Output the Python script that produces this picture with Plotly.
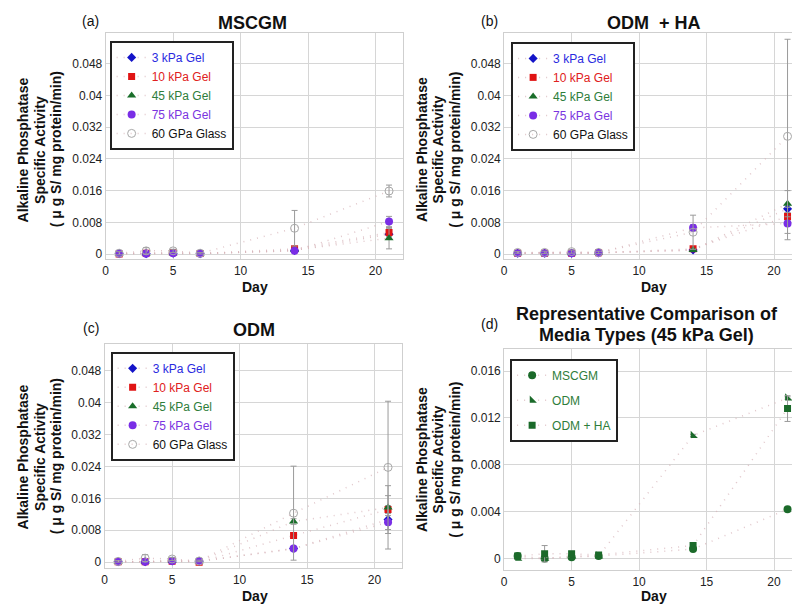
import plotly.graph_objects as go

W, H = 800, 604

days = [1, 3, 5, 7, 14, 21]
series_names = ["3 kPa Gel", "10 kPa Gel", "45 kPa Gel", "75 kPa Gel", "60 GPa Glass"]

# Panel (a) MSCGM
a_3kpa = [0.0001, 0.0001, 0.0002, 0.0001, 0.0009, 0.0050]
a_10kpa = [0.0000, 0.0002, 0.0004, 0.0001, 0.0013, 0.0054]
a_45kpa = [0.0001, 0.0001, 0.0002, 0.0001, 0.0010, 0.0040]
a_75kpa = [0.0001, 0.0001, 0.0002, 0.0001, 0.0008, 0.0082]
a_glass = [0.0002, 0.0008, 0.0008, 0.0002, 0.0065, 0.0159]
a_err_3kpa = [0.0001, 0.0001, 0.0001, 0.0001, 0.0002, 0.0010]
a_err_10kpa = [0.0001, 0.0001, 0.0002, 0.0001, 0.0003, 0.0010]
a_err_45kpa = [0.0001, 0.0001, 0.0001, 0.0001, 0.0002, 0.0027]
a_err_75kpa = [0.0001, 0.0001, 0.0001, 0.0001, 0.0002, 0.0013]
a_err_glass = [0.0004, 0.0008, 0.0004, 0.0002, 0.0045, 0.0015]

# Panel (b) ODM + HA
b_3kpa = [0.0002, 0.0002, 0.0002, 0.0003, 0.0010, 0.0114]
b_10kpa = [0.0002, 0.0002, 0.0002, 0.0003, 0.0013, 0.0095]
b_45kpa = [0.0002, 0.0002, 0.0002, 0.0003, 0.0010, 0.0127]
b_75kpa = [0.0002, 0.0002, 0.0002, 0.0003, 0.0066, 0.0077]
b_glass = [0.0004, 0.0004, 0.0006, 0.0004, 0.0055, 0.0297]
b_err_3kpa = [0.0001, 0.0001, 0.0001, 0.0001, 0.0002, 0.0010]
b_err_10kpa = [0.0001, 0.0001, 0.0001, 0.0001, 0.0002, 0.0010]
b_err_45kpa = [0.0001, 0.0001, 0.0001, 0.0001, 0.0002, 0.0033]
b_err_75kpa = [0.0001, 0.0001, 0.0001, 0.0001, 0.0008, 0.0041]
b_err_glass = [0.0002, 0.0003, 0.0004, 0.0003, 0.0043, 0.0245]

# Panel (c) ODM
c_3kpa = [0.0001, 0.0001, 0.0003, 0.0002, 0.0034, 0.0107]
c_10kpa = [0.0001, 0.0001, 0.0002, 0.0000, 0.0067, 0.0132]
c_45kpa = [0.0001, 0.0001, 0.0003, 0.0002, 0.0102, 0.0137]
c_75kpa = [0.0001, 0.0001, 0.0003, 0.0002, 0.0034, 0.0100]
c_glass = [0.0002, 0.0010, 0.0008, 0.0003, 0.0123, 0.0238]
c_err_3kpa = [0.0001, 0.0001, 0.0001, 0.0001, 0.0003, 0.0010]
c_err_10kpa = [0.0001, 0.0001, 0.0001, 0.0001, 0.0004, 0.0010]
c_err_45kpa = [0.0001, 0.0001, 0.0001, 0.0001, 0.0007, 0.0055]
c_err_75kpa = [0.0001, 0.0001, 0.0001, 0.0001, 0.0004, 0.0067]
c_err_glass = [0.0002, 0.0009, 0.0004, 0.0002, 0.0118, 0.0166]

# Panel (d) 45 kPa gel, media comparison
d_names = ["MSCGM", "ODM", "ODM + HA"]
d_mscgm = [0.0002, 0.0000, 0.0001, 0.0002, 0.0008, 0.0042]
d_odm = [0.0000, 0.0000, 0.0002, 0.0002, 0.0105, 0.0137]
d_odmha = [0.0002, 0.0004, 0.0004, 0.0003, 0.0011, 0.0128]
d_err_mscgm = [0.0001, 0.0001, 0.0001, 0.0001, 0.0001, 0.0001]
d_err_odm = [0.0001, 0.0001, 0.0001, 0.0001, 0.0001, 0.0001]
d_err_odmha = [0.0001, 0.0007, 0.0002, 0.0001, 0.0001, 0.0011]

x_ticks = [0, 5, 10, 15, 20]
y_ticks_abc = [0, 0.008, 0.016, 0.024, 0.032, 0.04, 0.048]
y_ticks_d = [0, 0.004, 0.008, 0.012, 0.016]

FONT = "Arial"
marker_styles = [
    dict(symbol="diamond", size=7, color="#1414c8"),
    dict(symbol="square", size=7, color="#e01414"),
    dict(symbol="triangle-up", size=8, color="#1a6e2a"),
    dict(symbol="circle", size=8, color="#7a2ee6"),
    dict(symbol="circle-open", size=8, color="#a8a8a8", line=dict(width=1, color="#a8a8a8")),
]
text_colors = ["#2a2ae0", "#e02020", "#2e7d3a", "#7a34e0", "#111111"]
d_markers = [
    dict(symbol="circle", size=8, color="#1b6a2a"),
    dict(symbol="triangle-sw", size=8, color="#1b6a2a"),
    dict(symbol="square", size=7, color="#1b6a2a"),
]
LINE = dict(color="rgba(215,180,185,0.75)", width=1.5, dash="1px,6px")
ERR = dict(type="data", color="#9a9a9a", thickness=1, width=3)

fig = go.Figure()

panels = [
    ("x", "y", "legend", [a_3kpa, a_10kpa, a_45kpa, a_75kpa, a_glass],
     [a_err_3kpa, a_err_10kpa, a_err_45kpa, a_err_75kpa, a_err_glass]),
    ("x2", "y2", "legend2", [b_3kpa, b_10kpa, b_45kpa, b_75kpa, b_glass],
     [b_err_3kpa, b_err_10kpa, b_err_45kpa, b_err_75kpa, b_err_glass]),
    ("x3", "y3", "legend3", [c_3kpa, c_10kpa, c_45kpa, c_75kpa, c_glass],
     [c_err_3kpa, c_err_10kpa, c_err_45kpa, c_err_75kpa, c_err_glass]),
]
for xa, ya, lg, vals, errs in panels:
    for i, (nm, v, e) in enumerate(zip(series_names, vals, errs)):
        fig.add_trace(go.Scatter(
            x=days, y=v, xaxis=xa, yaxis=ya, legend=lg,
            mode="lines+markers", line=LINE, marker=marker_styles[i],
            error_y=dict(ERR, array=e),
            name=f"<span style='color:{text_colors[i]}'>{nm}</span>",
        ))

for i, (nm, v, e) in enumerate(zip(d_names, [d_mscgm, d_odm, d_odmha],
                                    [d_err_mscgm, d_err_odm, d_err_odmha])):
    fig.add_trace(go.Scatter(
        x=days, y=v, xaxis="x4", yaxis="y4", legend="legend4",
        legendgroup=f"d{i}",
        mode="lines+markers", line=LINE, marker=d_markers[i],
        error_y=dict(ERR, array=e),
        name=f"<span style='color:#2e7d3a'>{nm}</span>",
    ))


def px_x(p):
    return p / W


def px_y(p):
    return 1 - p / H


axis_common = dict(
    showgrid=True, gridcolor="#d6d6d6", gridwidth=1,
    showline=True, linecolor="#cfcfcf", mirror=True, zeroline=False,
    ticks="", tickfont=dict(family=FONT, size=12, color="#222"),
)


def xax(x0, x1, anchor):
    return dict(axis_common, domain=[px_x(x0), px_x(x1)], range=[0, 22],
                tickvals=x_ticks, anchor=anchor)


def yax(y0, y1, rng, ticks, anchor):
    return dict(axis_common, domain=[px_y(y1), px_y(y0)], range=rng,
                tickvals=ticks, ticktext=[("0" if t == 0 else f"{t:g}") for t in ticks],
                anchor=anchor)


legend_common = dict(
    bgcolor="white", bordercolor="#222", borderwidth=2,
    font=dict(family=FONT, size=12), xanchor="left", yanchor="top",
    itemwidth=30, itemclick=False,
)

fig.update_layout(
    width=W, height=H, margin=dict(l=0, r=0, t=0, b=0),
    plot_bgcolor="white", paper_bgcolor="white",
    font=dict(family=FONT, color="#111"),
    xaxis=xax(95, 393, "y"),
    yaxis=yax(25, 252, [-0.0013, 0.0558], y_ticks_abc, "x"),
    xaxis2=xax(495, 793, "y2"),
    yaxis2=yax(25, 252, [-0.0013, 0.0558], y_ticks_abc, "x2"),
    xaxis3=xax(94, 392, "y3"),
    yaxis3=yax(337, 562, [-0.0015, 0.0548], y_ticks_abc, "x3"),
    xaxis4=xax(495, 793, "y4"),
    yaxis4=yax(342, 564, [-0.001, 0.0179], y_ticks_d, "x4"),
    legend=dict(legend_common, x=px_x(99), y=px_y(33)),
    legend2=dict(legend_common, x=px_x(502), y=px_y(34)),
    legend3=dict(legend_common, x=px_x(100), y=px_y(345)),
    legend4=dict(legend_common, x=px_x(501), y=px_y(352), tracegroupgap=6),
    showlegend=True,
)

ann = []


def text(x, y, s, size, bold=False, angle=0):
    ann.append(dict(
        x=px_x(x), y=px_y(y), xref="paper", yref="paper",
        text=(f"<b>{s}</b>" if bold else s), showarrow=False,
        xanchor="center", yanchor="middle", textangle=angle,
        font=dict(family=FONT, size=size, color="#111"),
    ))


# Titles and panel letters
text(242, 15, "MSCGM", 18, True)
text(645, 15, "ODM  + HA", 18, True)
text(244, 323, "ODM", 18, True)
text(638, 307, "Representative Comparison of", 18, True)
text(638, 328, "Media Types (45 kPa Gel)", 18, True)
text(80, 13, "(a)", 14)
text(480, 13, "(b)", 14)
text(80, 321, "(c)", 14)
text(480, 317, "(d)", 14)

# Axis titles
ylines = ["Alkaline Phosphatase", "Specific Activity", "( \u03bc g S/ mg protein/min)"]
for x0, yc in [(0, 142), (400, 142), (0, 450), (400, 453)]:
    for k, s in enumerate(ylines):
        text(x0 + 12 + 16.5 * k, yc, s, 14, True, -90)
for xc, yc in [(245, 280), (645, 280), (245, 590), (645, 590)]:
    text(xc, yc, "Day", 14, True)

fig.update_layout(annotations=ann)

fig.write_html("out.html")
